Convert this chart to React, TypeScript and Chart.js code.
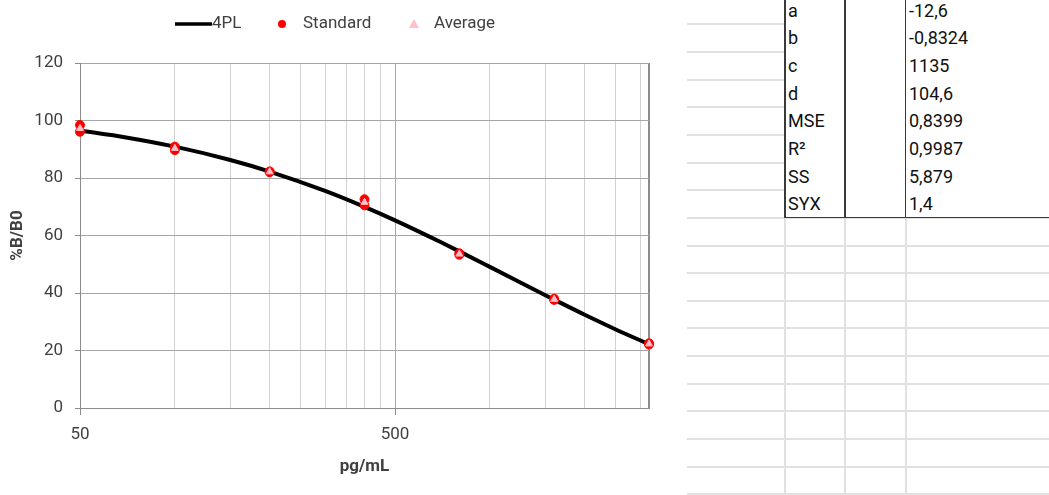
import React, { useEffect, useRef } from "react";
import { Chart, registerables } from "chart.js";
Chart.register(...registerables);

// ---- data ----
const seriesLabels = ["4PL", "Standard", "Average"];
const curveX = [50, 70, 100, 150, 200, 300, 400, 500, 700, 800, 1000, 1500, 1600, 2000, 2500, 3200];
const curveY = [96.49, 94.11, 90.9, 86.26, 82.24, 75.5, 69.95, 65.26, 57.63, 54.47, 49.08, 39.23, 37.68, 32.43, 27.41, 22.18];
const standardX = [50, 50, 100, 100, 200, 200, 400, 400, 800, 800, 1600, 1600, 3200, 3200];
const standardY = [98.4, 96.1, 90.9, 89.7, 82.3, 82.0, 72.6, 70.5, 53.8, 53.3, 38.0, 37.6, 22.5, 22.1];
const averageX = [50, 100, 200, 400, 800, 1600, 3200];
const averageY = [97.25, 90.3, 82.15, 71.55, 53.55, 37.8, 22.3];
const xGridValues = [50, 100, 150, 200, 250, 300, 350, 400, 450, 500, 1000, 1500, 2000, 2500, 3000, 3200];
const xLabelValues = [50, 500];
const xTitle = "pg/mL";
const yTitle = "%B/B0";
const paramNames = ["a", "b", "c", "d", "MSE", "R²", "SS", "SYX"];
const paramValues = ["-12,6", "-0,8324", "1135", "104,6", "0,8399", "0,9987", "5,879", "1,4"];

const FONT = "Roboto";
const TEXT = "#404040";

const legendPlugin = {
  id: "customLegend",
  afterDraw(chart: any) {
    const ctx = chart.ctx;
    const labels = chart.data.datasets.map((d: any) => d.label);
    const y = 24;
    ctx.save();
    ctx.font = `17px ${FONT}`;
    ctx.textBaseline = "middle";
    ctx.textAlign = "left";
    ctx.strokeStyle = "#000";
    ctx.lineWidth = 3.5;
    ctx.beginPath();
    ctx.moveTo(175, y);
    ctx.lineTo(212, y);
    ctx.stroke();
    ctx.fillStyle = TEXT;
    ctx.fillText(labels[0], 212, y);
    ctx.fillStyle = "#ff0000";
    ctx.beginPath();
    ctx.arc(282, y, 4, 0, Math.PI * 2);
    ctx.fill();
    ctx.fillStyle = TEXT;
    ctx.fillText(labels[1], 303, y);
    ctx.fillStyle = "#ffc0cb";
    ctx.beginPath();
    ctx.moveTo(414, y - 5);
    ctx.lineTo(419, y + 4);
    ctx.lineTo(409, y + 4);
    ctx.closePath();
    ctx.fill();
    ctx.fillStyle = TEXT;
    ctx.fillText(labels[2], 434, y);
    ctx.restore();
  },
};

function ChartBox() {
  const ref = useRef<HTMLCanvasElement>(null);
  useEffect(() => {
    const canvas = ref.current!;
    const chart = new Chart(canvas, {
      type: "scatter",
      data: {
        datasets: [
          {
            type: "line",
            label: seriesLabels[0],
            data: curveX.map((x, i) => ({ x, y: curveY[i] })),
            borderColor: "#000",
            borderWidth: 4,
            pointRadius: 0,
            cubicInterpolationMode: "monotone",
            clip: false,
            order: 2,
          } as any,
          {
            label: seriesLabels[1],
            data: standardX.map((x, i) => ({ x, y: standardY[i] })),
            backgroundColor: "#ff0000",
            borderColor: "#ff0000",
            pointRadius: 4.5,
            pointStyle: "circle",
            clip: false,
            order: 1,
          },
          {
            label: seriesLabels[2],
            data: averageX.map((x, i) => ({ x, y: averageY[i] })),
            backgroundColor: "#ffc0cb",
            borderColor: "#ffc0cb",
            borderWidth: 1,
            pointRadius: 4,
            pointStyle: "triangle",
            clip: false,
            order: 0,
          },
        ],
      },
      options: {
        responsive: false,
        animation: false,
        layout: { padding: { top: 63, right: 38, left: 0, bottom: 0 } },
        plugins: { legend: { display: false }, tooltip: { enabled: false } },
        scales: {
          x: {
            type: "logarithmic",
            min: 50,
            max: 3200,
            afterBuildTicks: (s: any) => {
              s.ticks = xGridValues.map((v) => ({ value: v }));
            },
            afterFit: (s: any) => {
              s.height = 87;
            },
            ticks: {
              autoSkip: false,
              maxRotation: 0,
              padding: 10,
              color: TEXT,
              font: { family: FONT, size: 17 },
              callback: (v: any) => (xLabelValues.includes(Number(v)) ? String(v) : ""),
            },
            grid: {
              color: (c: any) => {
                const v = c.tick?.value;
                if (v === 500) return "#a6a6a6";
                if (v === 3200) return "#8c8c8c";
                return "#d3d3d3";
              },
              lineWidth: (c: any) => (c.tick?.value === 3200 ? 2 : 1),
              tickLength: 7,
              tickColor: (c: any) => (xLabelValues.includes(c.tick?.value) ? "#8c8c8c" : "rgba(0,0,0,0)"),
            },
            border: { color: "#8c8c8c", width: 1 },
            title: {
              display: true,
              text: xTitle,
              color: TEXT,
              font: { family: FONT, size: 17, weight: "bold" },
              padding: { top: 4, bottom: 18 },
            },
          } as any,
          y: {
            min: 0,
            max: 120,
            afterFit: (s: any) => {
              s.width = 80;
            },
            ticks: {
              stepSize: 20,
              padding: 12,
              color: TEXT,
              font: { family: FONT, size: 17 },
            },
            grid: { color: "#a6a6a6", tickLength: 5, tickColor: "#8c8c8c" },
            border: { color: "#8c8c8c", width: 1 },
            title: {
              display: true,
              text: yTitle,
              color: TEXT,
              font: { family: FONT, size: 17, weight: "bold" },
              padding: { top: 8, bottom: 4 },
            },
          } as any,
        },
      },
      plugins: [legendPlugin],
    } as any);
    return () => chart.destroy();
  }, []);
  return <canvas ref={ref} width={687} height={495} style={{ display: "block" }} />;
}

const ROW_H = 27.65;
const FIRST_LINE = 24.3;
const LIGHT = "#e1e1e1";
const DARK = "#3a3a3a";
const COLS = [785, 845, 905.5];

function Sheet() {
  const lines: React.ReactNode[] = [];
  for (let k = 0; k < 18; k++) {
    const y = FIRST_LINE + ROW_H * k;
    const inTable = k < 7;
    lines.push(
      <div
        key={"h" + k}
        style={{
          position: "absolute",
          left: 687,
          top: y - 1,
          width: (inTable ? COLS[0] : 1049) - 687,
          height: 2,
          background: LIGHT,
        }}
      />
    );
  }
  const tableBottom = FIRST_LINE + ROW_H * 7;
  COLS.forEach((x, i) => {
    lines.push(
      <div key={"vl" + i} style={{ position: "absolute", left: x - 1, top: tableBottom, width: 2, height: 495 - tableBottom, background: LIGHT }} />
    );
    lines.push(
      <div key={"vd" + i} style={{ position: "absolute", left: x - 1, top: 0, width: 1.5, height: tableBottom, background: DARK }} />
    );
  });
  lines.push(
    <div key="bot" style={{ position: "absolute", left: COLS[0] - 1, top: tableBottom - 1, width: 1049 - COLS[0] + 1, height: 1.5, background: DARK }} />
  );
  const cells = paramNames.map((n, i) => {
    const top = FIRST_LINE + ROW_H * (i - 1);
    return (
      <React.Fragment key={"r" + i}>
        <div style={{ position: "absolute", left: 788, top, height: ROW_H, lineHeight: ROW_H + "px", fontFamily: FONT, fontSize: 18, color: "#111" }}>{n}</div>
        <div style={{ position: "absolute", left: 909, top, height: ROW_H, lineHeight: ROW_H + "px", fontFamily: FONT, fontSize: 18, color: "#111" }}>{paramValues[i]}</div>
      </React.Fragment>
    );
  });
  return (
    <>
      {lines}
      {cells}
    </>
  );
}

export default function App() {
  useEffect(() => {
    document.body.style.margin = "0";
    document.body.style.background = "#fff";
  }, []);
  return (
    <div style={{ position: "relative", width: 1049, height: 495, overflow: "hidden", background: "#fff" }}>
      <Sheet />
      <div style={{ position: "absolute", left: 0, top: 0, width: 687, height: 495 }}>
        <ChartBox />
      </div>
    </div>
  );
}
